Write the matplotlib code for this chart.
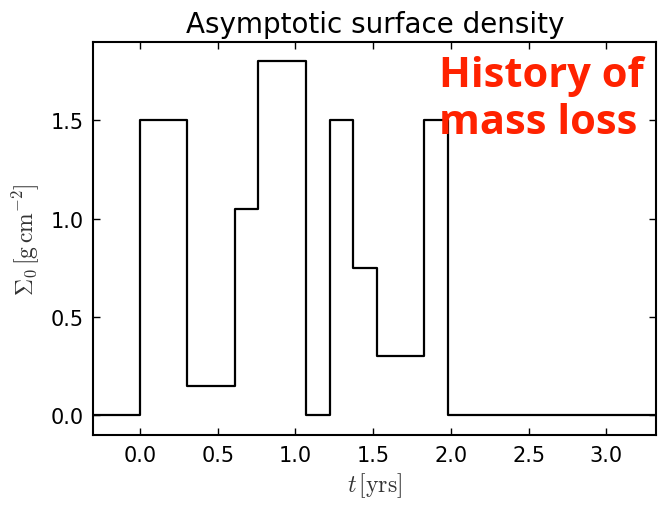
import matplotlib
matplotlib.use("Agg")
import matplotlib.pyplot as plt

plt.rcParams['mathtext.fontset'] = 'cm'

# times where the surface density switches, and the level held after each one
t_switch = [-1.0, 0.0, 0.305, 0.61, 0.76, 1.065, 1.22, 1.37, 1.525, 1.83, 1.98, 4.0]
sigma0 = [0.0, 1.5, 0.15, 1.05, 1.8, 0.0, 1.5, 0.75, 0.3, 1.5, 0.0, 0.0]

xticks = [0.0, 0.5, 1.0, 1.5, 2.0, 2.5, 3.0]
yticks = [0.0, 0.5, 1.0, 1.5]

fig = plt.figure(figsize=(6.58, 5.06), dpi=100)
ax = fig.add_axes([0.142, 0.138, 0.855, 0.778])

ax.step(t_switch, sigma0, where="post", color="black", lw=1.6)

ax.set_xlim(-0.3, 3.32)
ax.set_ylim(-0.1, 1.9)
ax.set_xticks(xticks)
ax.set_yticks(yticks)
ax.set_xticklabels([f"{v:.1f}" for v in xticks])
ax.set_yticklabels([f"{v:.1f}" for v in yticks])
ax.tick_params(direction="in", top=True, right=True, length=5, width=1,
               labelsize=15, pad=7)
for s in ax.spines.values():
    s.set_linewidth(1.5)

ax.set_title("Asymptotic surface density", fontsize=20, pad=7)
ax.set_xlabel(r"$t\,[\mathrm{yrs}]$", fontsize=17, color="#333333", labelpad=4)
ax.set_ylabel(r"$\Sigma_0\,[\mathrm{g\,cm^{-2}}]$", fontsize=17, color="#333333",
              labelpad=6)

fig.text(0.667, 0.803, "History of\nmass loss", color="#ff2200",
         fontsize=30, fontweight="bold", family="Open Sans",
         ha="left", va="center", linespacing=1.2)

fig.savefig("out.png", dpi=100)
